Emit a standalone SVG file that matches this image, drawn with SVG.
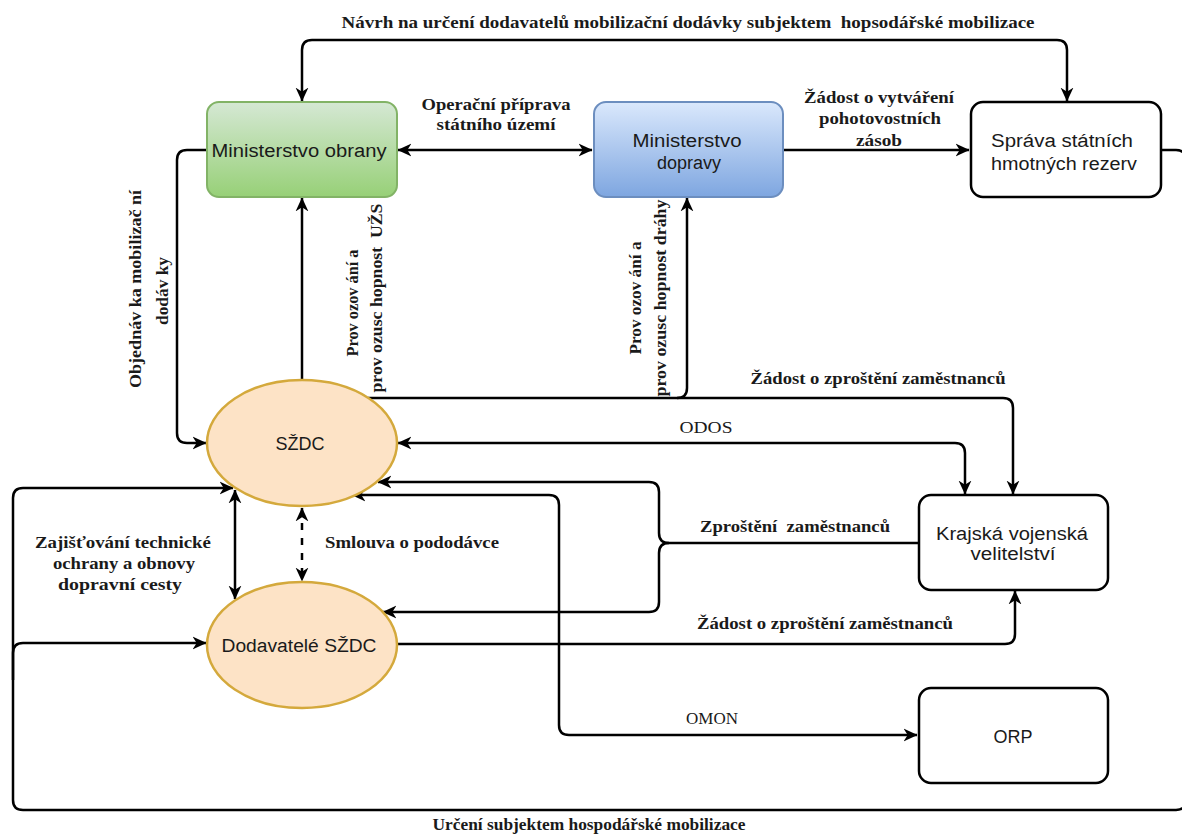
<svg xmlns="http://www.w3.org/2000/svg" width="1182" height="834" viewBox="0 0 1182 834">
<style>
.c{fill:none;stroke:#000;stroke-width:2.5;stroke-linejoin:round}
.a2{marker-start:url(#arr);marker-end:url(#arr)}
.a1{marker-end:url(#arr)}
.lbl{font-family:"Liberation Serif","Times New Roman",serif;font-size:17px;font-weight:bold;fill:#1a1a1a;text-anchor:middle}
.lr{font-family:"Liberation Serif","Times New Roman",serif;font-size:17px;font-weight:normal;fill:#1a1a1a;text-anchor:middle}
.nt{font-family:"Liberation Sans",Arial,sans-serif;font-size:18px;fill:#1a1a1a;text-anchor:middle}
.box{fill:#fff;stroke:#000;stroke-width:2.5}
.ell{fill:#fde3c6;stroke:#d4a93c;stroke-width:2.5}
</style>
<defs>
<marker id="arr" viewBox="0 0 12 12" refX="11.5" refY="6" markerWidth="14" markerHeight="14" orient="auto-start-reverse" markerUnits="userSpaceOnUse">
<path d="M0,0.5 L12,6 L0,11.5 L3.5,6 Z" fill="#000"/>
</marker>
<linearGradient id="gG" x1="0" y1="0" x2="0" y2="1"><stop offset="0" stop-color="#d5e8d4"/><stop offset="1" stop-color="#97d077"/></linearGradient>
<linearGradient id="gB" x1="0" y1="0" x2="0" y2="1"><stop offset="0" stop-color="#dae8fc"/><stop offset="1" stop-color="#7ea6e0"/></linearGradient>
</defs>
<rect width="1182" height="834" fill="#fff"/>

<g id="connectors">
<path class="c a2" d="M302,101 L302,50 Q302,40 312,40 L1057,40 Q1067,40 1067,50 L1067,101"/>
<path class="c a2" d="M398,150 L592,150"/>
<path class="c a1" d="M783,150 L969,150"/>
<path class="c a1" d="M1161,150 L1176,150 Q1186,150 1186,160 L1186,800 Q1186,810 1176,810 L23,810 Q13,810 13,800 L13,498 Q13,488 23,488 L233,488"/>
<path class="c a1" d="M13,680 L13,653 Q13,643 23,643 L206,643"/>
<path class="c a1" d="M207,150 L187,150 Q177,150 177,160 L177,433 Q177,443 187,443 L206,443"/>
<path class="c a1" d="M302,380 L302,198"/>
<path class="c a1" d="M368,398 L677,398 Q687,398 687,388 L687,198"/>
<path class="c a1" d="M677,398 L1003,398 Q1013,398 1013,408 L1013,494"/>
<path class="c a2" d="M398,443 L955,443 Q965,443 965,453 L965,494"/>
<path class="c" d="M919,543 L669,543"/>
<path class="c a1" d="M669,543 Q659,543 659,533 L659,492 Q659,482 649,482 L378,482"/>
<path class="c a1" d="M669,543 Q659,543 659,553 L659,602 Q659,612 649,612 L383,612"/>
<path class="c a2" d="M352,495 L549,495 Q559,495 559,505 L559,725 Q559,735 569,735 L917,735"/>
<path class="c a1" d="M397,644 L1005,644 Q1015,644 1015,634 L1015,591"/>
<path class="c a2" d="M235,490 L235,599"/>
<path class="c a2" d="M302,508 L302,581" stroke-dasharray="7 8"/>
</g>

<g id="edge-labels">
<text class="lbl" x="688" y="28" textLength="693" lengthAdjust="spacingAndGlyphs">Návrh na určení dodavatelů mobilizační dodávky subjektem&#160; hopsodářské mobilizace</text>
<text class="lbl" x="496" y="110" textLength="149" lengthAdjust="spacingAndGlyphs">Operační příprava</text>
<text class="lbl" x="496" y="130" textLength="119" lengthAdjust="spacingAndGlyphs">státního území</text>
<text class="lbl" x="879" y="103" textLength="150" lengthAdjust="spacingAndGlyphs">Žádost o vytváření</text>
<text class="lbl" x="880" y="124" textLength="122" lengthAdjust="spacingAndGlyphs">pohotovostních</text>
<text class="lbl" x="879" y="146" textLength="46" lengthAdjust="spacingAndGlyphs">zásob</text>
<text class="lbl" transform="translate(141,289) rotate(-90)" x="0" y="0" textLength="198" lengthAdjust="spacingAndGlyphs">Objednáv ka mobilizač ní</text>
<text class="lbl" transform="translate(168,291) rotate(-90)" x="0" y="0" textLength="68" lengthAdjust="spacingAndGlyphs">dodáv ky</text>
<text class="lbl" transform="translate(358,303) rotate(-90)" x="0" y="0" textLength="107" lengthAdjust="spacingAndGlyphs">Prov ozov ání a</text>
<text class="lbl" transform="translate(382,298) rotate(-90)" x="0" y="0" textLength="189" lengthAdjust="spacingAndGlyphs">prov ozusc hopnost&#160; UŽS</text>
<text class="lbl" transform="translate(641,298) rotate(-90)" x="0" y="0" textLength="113" lengthAdjust="spacingAndGlyphs">Prov ozov ání a</text>
<text class="lbl" transform="translate(666,298) rotate(-90)" x="0" y="0" textLength="197" lengthAdjust="spacingAndGlyphs">prov ozusc hopnost dráhy</text>
<text class="lbl" x="878" y="384" textLength="255" lengthAdjust="spacingAndGlyphs">Žádost o zproštění zaměstnanců</text>
<text class="lr" x="706" y="433" textLength="53" lengthAdjust="spacingAndGlyphs">ODOS</text>
<text class="lbl" x="795" y="532" textLength="190" lengthAdjust="spacingAndGlyphs">Zproštění&#160; zaměstnanců</text>
<text class="lbl" x="825" y="629" textLength="256" lengthAdjust="spacingAndGlyphs">Žádost o zproštění zaměstnanců</text>
<text class="lr" x="712" y="724">OMON</text>
<text class="lbl" x="589" y="830" textLength="313" lengthAdjust="spacingAndGlyphs">Určení subjektem hospodářské mobilizace</text>
<text class="lbl" x="123" y="548" textLength="176" lengthAdjust="spacingAndGlyphs">Zajišťování technické</text>
<text class="lbl" x="124" y="569" textLength="142" lengthAdjust="spacingAndGlyphs">ochrany a obnovy</text>
<text class="lbl" x="120" y="590" textLength="124" lengthAdjust="spacingAndGlyphs">dopravní cesty</text>
<text class="lbl" x="412" y="548" textLength="174" lengthAdjust="spacingAndGlyphs">Smlouva o pododávce</text>
</g>

<g id="ministerstvo-obrany">
<rect x="207" y="102" width="190" height="95" rx="12" fill="url(#gG)" stroke="#82b366" stroke-width="2"/>
<text class="nt" x="299" y="156.5" textLength="175" lengthAdjust="spacingAndGlyphs">Ministerstvo obrany</text>
</g>
<g id="ministerstvo-dopravy">
<rect x="594" y="102" width="189" height="95" rx="12" fill="url(#gB)" stroke="#6c8ebf" stroke-width="2"/>
<text class="nt" x="687" y="146.5" textLength="109" lengthAdjust="spacingAndGlyphs">Ministerstvo</text>
<text class="nt" x="689" y="168.5">dopravy</text>
</g>
<g id="sprava">
<rect x="971" y="102" width="190" height="95" rx="12" class="box"/>
<text class="nt" x="1062" y="146.5" textLength="142" lengthAdjust="spacingAndGlyphs">Správa státních</text>
<text class="nt" x="1064" y="169.5" textLength="146" lengthAdjust="spacingAndGlyphs">hmotných rezerv</text>
</g>
<g id="szdc">
<ellipse cx="302" cy="443" rx="95" ry="63" class="ell"/>
<text class="nt" x="300" y="449.5">SŽDC</text>
</g>
<g id="dodavatele-szdc">
<ellipse cx="302" cy="645" rx="95" ry="63" class="ell"/>
<text class="nt" x="299" y="651.5" textLength="155" lengthAdjust="spacingAndGlyphs">Dodavatelé SŽDC</text>
</g>
<g id="krajska-vojenska-velitelstvi">
<rect x="919" y="495" width="189" height="95" rx="12" class="box"/>
<text class="nt" x="1012" y="539.5" textLength="152" lengthAdjust="spacingAndGlyphs">Krajská vojenská</text>
<text class="nt" x="1013" y="559.5" textLength="85" lengthAdjust="spacingAndGlyphs">velitelství</text>
</g>
<g id="orp">
<rect x="919" y="688" width="189" height="95" rx="12" class="box"/>
<text class="nt" x="1013" y="742.5">ORP</text>
</g>
</svg>
